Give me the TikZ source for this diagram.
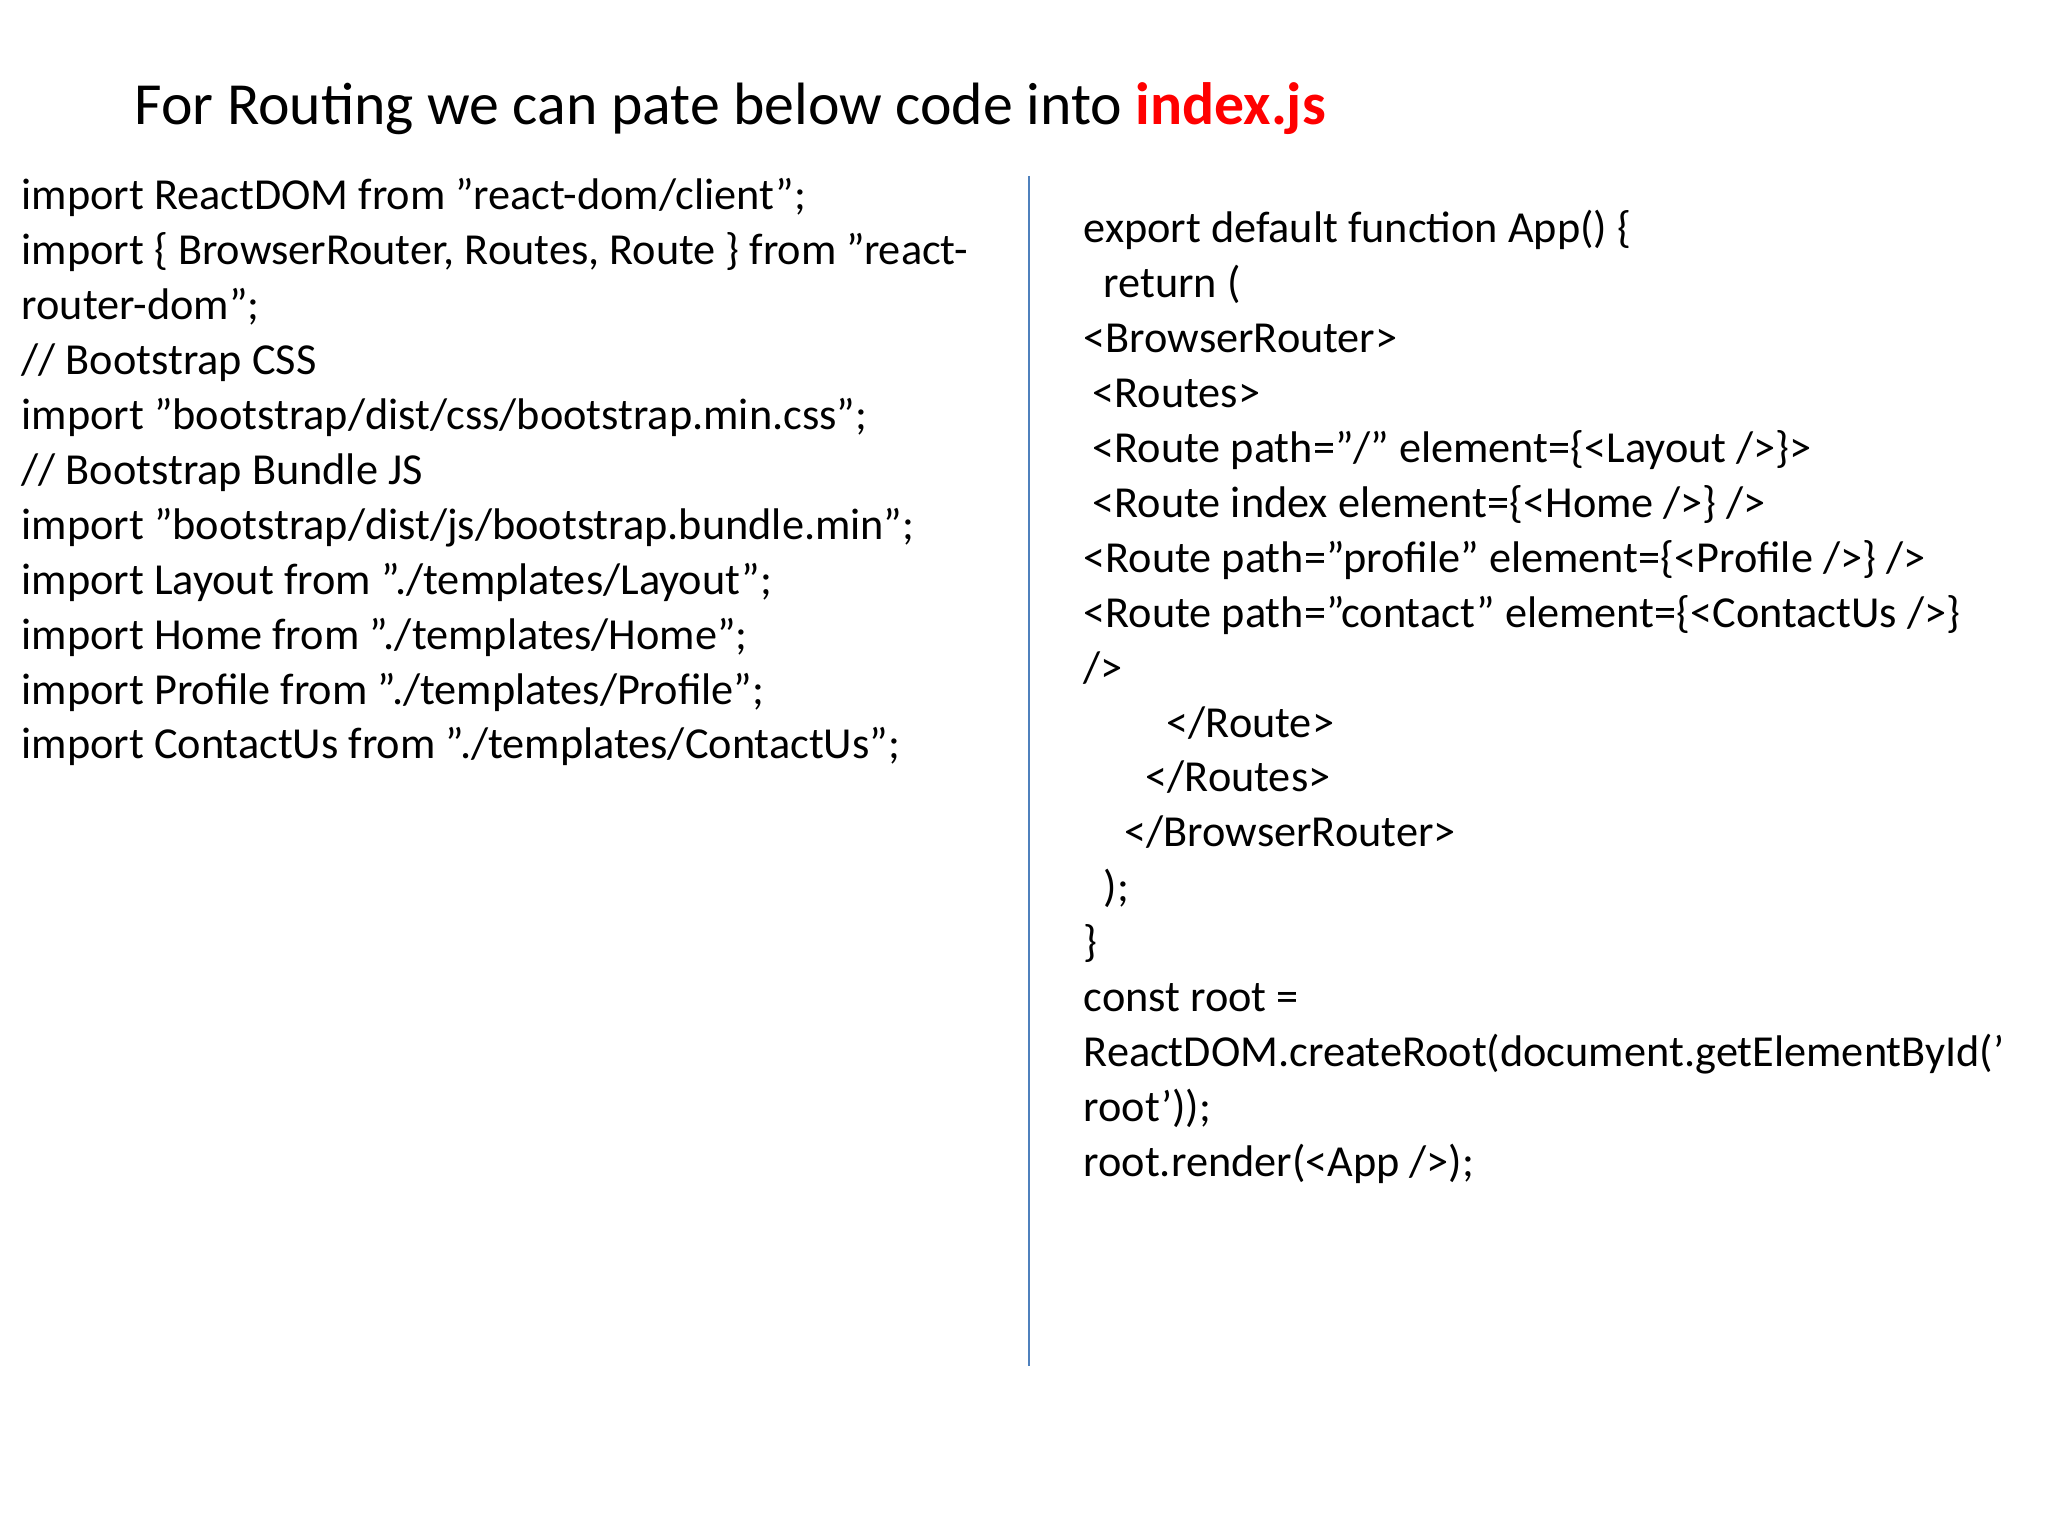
\documentclass[tikz,border=0pt]{standalone}
\usepackage{fontspec}
\setmainfont{Carlito}
\begin{document}
\begin{tikzpicture}[
    codeline/.style ={anchor=base west, inner sep=0pt, font=\fontsize{12.6}{15}\selectfont},
    heading/.style ={anchor=base west, inner sep=0pt, font=\fontsize{17}{20}\selectfont}]
   \useasboundingbox (0,0) rectangle (20.48,15.36);
   \node[heading] (title) at (1.34,14.11) {For Routing we can pate below code into \textcolor{red}{\textbf{index.js}}};

   % left column
   \node[codeline] (l1)  at (0.21,{13.26-0.549*0})  {import ReactDOM from "react-dom/client";};
   \node[codeline] (l2)  at (0.21,{13.26-0.549*1})  {import \{ BrowserRouter, Routes, Route \} from "react-};
   \node[codeline] (l3)  at (0.21,{13.26-0.549*2})  {router-dom";};
   \node[codeline] (l4)  at (0.21,{13.26-0.549*3})  {// Bootstrap CSS};
   \node[codeline] (l5)  at (0.21,{13.26-0.549*4})  {import "bootstrap/dist/css/bootstrap.min.css";};
   \node[codeline] (l6)  at (0.21,{13.26-0.549*5})  {// Bootstrap Bundle JS};
   \node[codeline] (l7)  at (0.21,{13.26-0.549*6})  {import "bootstrap/dist/js/bootstrap.bundle.min";};
   \node[codeline] (l8)  at (0.21,{13.26-0.549*7})  {import Layout from "./templates/Layout";};
   \node[codeline] (l9)  at (0.21,{13.26-0.549*8})  {import Home from "./templates/Home";};
   \node[codeline] (l10) at (0.21,{13.26-0.549*9})  {import Profile from "./templates/Profile";};
   \node[codeline] (l11) at (0.21,{13.26-0.549*10}) {import ContactUs from "./templates/ContactUs";};

   % divider
   \coordinate (top) at (10.29,13.60);
   \coordinate (bot) at (10.29,1.70);
   \draw[color={rgb,255:red,79;green,129;blue,189}, line width=0.8pt] (top) -- (bot);

   % right column
   \node[codeline] (r1)  at (10.83,{12.93-0.549*0})  {export default function App() \{};
   \node[codeline] (r2)  at (11.03,{12.93-0.549*1})  {return (};
   \node[codeline] (r3)  at (10.83,{12.93-0.549*2})  {<BrowserRouter>};
   \node[codeline] (r4)  at (10.92,{12.93-0.549*3})  {<Routes>};
   \node[codeline] (r5)  at (10.92,{12.93-0.549*4})  {<Route path="/" element=\{<Layout />\}>};
   \node[codeline] (r6)  at (10.92,{12.93-0.549*5})  {<Route index element=\{<Home />\} />};
   \node[codeline] (r7)  at (10.83,{12.93-0.549*6})  {<Route path="profile" element=\{<Profile />\} />};
   \node[codeline] (r8)  at (10.83,{12.93-0.549*7})  {<Route path="contact" element=\{<ContactUs />\}};
   \node[codeline] (r9)  at (10.83,{12.93-0.549*8})  {/>};
   \node[codeline] (r10) at (11.66,{12.93-0.549*9})  {</Route>};
   \node[codeline] (r11) at (11.45,{12.93-0.549*10}) {</Routes>};
   \node[codeline] (r12) at (11.24,{12.93-0.549*11}) {</BrowserRouter>};
   \node[codeline] (r13) at (11.03,{12.93-0.549*12}) {);};
   \node[codeline] (r14) at (10.83,{12.93-0.549*13}) {\}};
   \node[codeline] (r15) at (10.83,{12.93-0.549*14}) {const root =};
   \node[codeline] (r16) at (10.83,{12.93-0.549*15}) {ReactDOM.createRoot(document.getElementById('};
   \node[codeline] (r17) at (10.83,{12.93-0.549*16}) {root'));};
   \node[codeline] (r18) at (10.83,{12.93-0.549*17}) {root.render(<App />);};
\end{tikzpicture}
\end{document}
